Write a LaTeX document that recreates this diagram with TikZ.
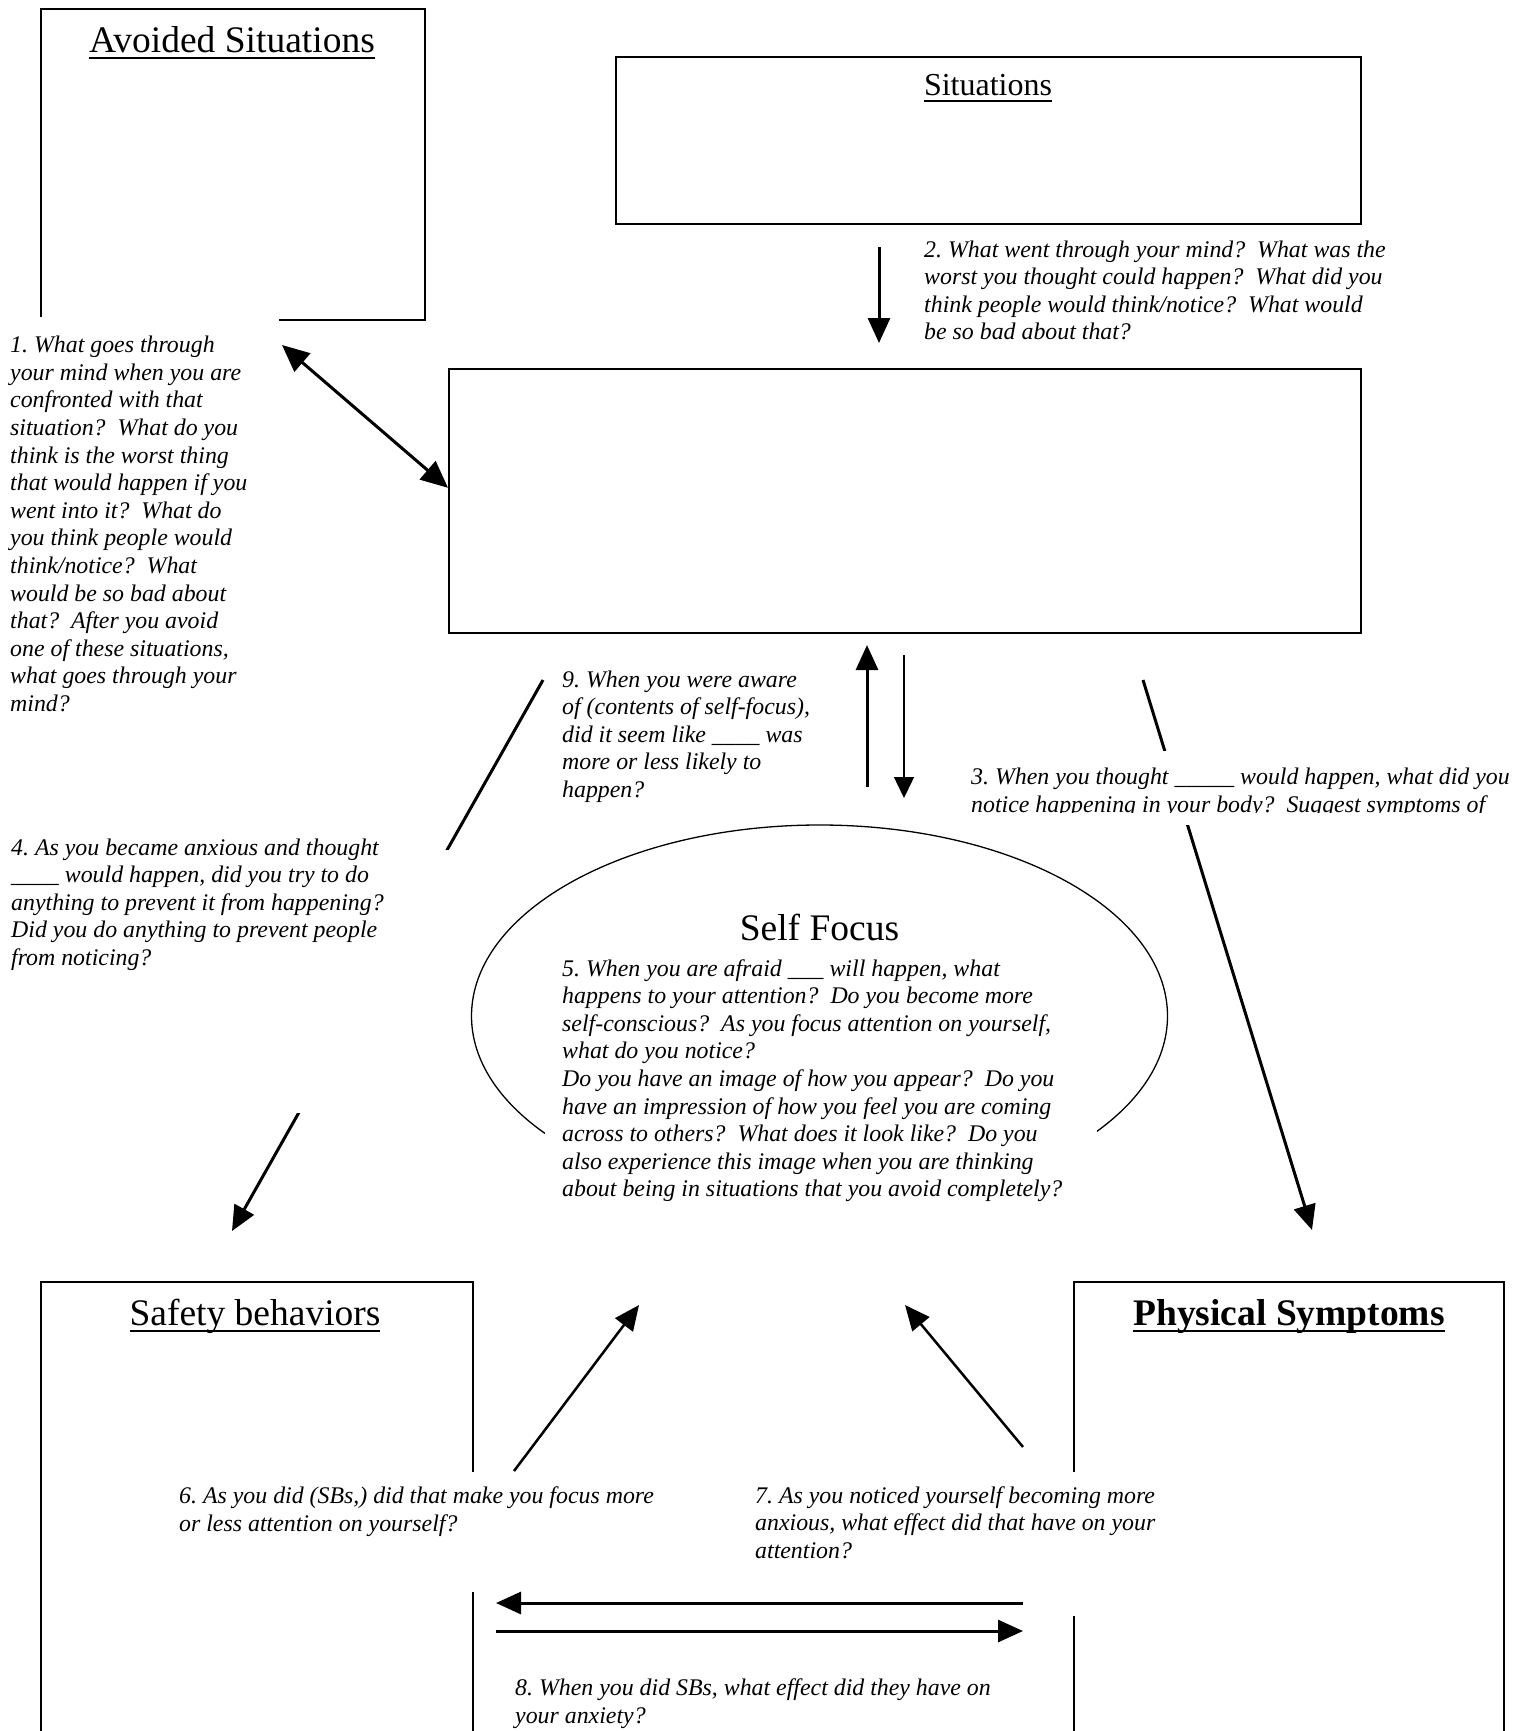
\documentclass[tikz,border=0pt]{standalone}
\usepackage{fontspec}
\setmainfont{Liberation Serif}
\usetikzlibrary{arrows.meta,shapes.geometric}
\frenchspacing
\newcommand\myul[1]{\setbox0=\hbox{#1}\rlap{\rule[-0.175em]{\wd0}{0.045em}}\box0}
\tikzset{
  box/.style={draw, line width=2pt, inner sep=0pt, anchor=north west},
  body/.style={font=\fontsize{23.85pt}{27.6pt}\selectfont\itshape\frenchspacing, align=left, inner sep=0pt, anchor=base west},
  ttl/.style={font=\fontsize{37.5pt}{40pt}\selectfont, inner sep=0pt, anchor=base},
  arr/.style={line width=3pt, -{Triangle[length=25pt,width=22pt]}},
  dblarr/.style={line width=3pt, {Triangle[length=27pt,width=24pt]}-{Triangle[length=27pt,width=24pt]}},
  thinarr/.style={line width=1.4pt, -{Triangle[length=21pt,width=20pt]}},
  midarr/.style={line width=2.5pt, -{Triangle[length=25pt,width=22pt]}},
  cover/.style={fill=white, draw=none}
}
\begin{document}
\begin{tikzpicture}[x=1pt,y=-1pt]
\useasboundingbox (0,0) rectangle (1525,1731);
\clip (0,0) rectangle (1525,1731);
\fill[white] (0,0) rectangle (1525,1731);

% boxes
\node[box, minimum width=384pt, minimum height=311pt] (av) at (40,8) {};
\node[box, minimum width=745pt, minimum height=167pt] (sit) at (615,56) {};
\node[box, line width=1.6pt, minimum width=912pt, minimum height=264pt] (mid) at (448,368) {};
\node[box, minimum width=432pt, minimum height=500pt] (sb) at (40,1281) {};
\node[box, minimum width=430pt, minimum height=500pt] (ps) at (1073,1281) {};
\node[draw, ellipse, line width=1.3pt, minimum width=696pt, minimum height=382pt, inner sep=0pt] (sf) at (819.5,1016) {};

% free arrow ends
\coordinate (a1s) at (282,345);
\coordinate (a2s) at (879,247);
\coordinate (a2e) at (879,343);
\coordinate (a9us) at (867,787);
\coordinate (a9ue) at (867,645);
\coordinate (a9ds) at (904,655);
\coordinate (a9de) at (904,798);
\coordinate (a4s) at (543,680);
\coordinate (a4e) at (232,1231);
\coordinate (a3s) at (1143,680);
\coordinate (a3e) at (1312,1230);
\coordinate (a6s) at (514,1471);
\coordinate (a6e) at (639,1305);
\coordinate (a7s) at (1023,1447);
\coordinate (a7e) at (905,1305);
\coordinate (a8as) at (1023,1603);
\coordinate (a8ae) at (496,1603);
\coordinate (a8bs) at (496,1631);
\coordinate (a8be) at (1023,1631);

% arrows
\draw[dblarr] (a1s) -- ([yshift=13pt]mid.west);
\draw[arr] (a2s) -- (a2e);
\draw[arr] (a9us) -- (a9ue);
\draw[thinarr] (a9ds) -- (a9de);
\draw[arr] (a4s) -- (a4e);
\draw[arr] (a3s) -- (a3e);
\draw[midarr] (a6s) -- (a6e);
\draw[midarr] (a7s) -- (a7e);

% white text backgrounds
\fill[cover] (0,317) rectangle (279,680);
\fill[cover] (965,751) rectangle (1525,825);
\fill[cover] (0,850) rectangle (460,1113);
\fill[cover] (545,950) rectangle (1097,1215);
\fill[cover] (175,1472) rectangle (700,1592);
\fill[cover] (750,1472) rectangle (1085,1616);

% titles
\node[ttl] (avT) at (232,52.5) {\myul{Avoided Situations}};
\node[ttl, font=\fontsize{32pt}{36pt}\selectfont] (sitT) at (988,96) {\myul{Situations}};
\node[ttl] (sfT) at (819.5,940) {Self Focus};
\node[ttl] (sbT) at (255,1325) {\myul{Safety behaviors}};
\node[ttl, font=\fontsize{37.5pt}{40pt}\selectfont\bfseries] (psT) at (1289,1325) {\myul{Physical Symptoms}};

% question texts (positions are the baselines of their last lines)
\node[body] (t1) at (10,711.5) {1. What goes through\\your mind when you are\\confronted with that\\situation?\ \ What do you\\think is the worst thing\\that would happen if you\\went into it?\ \ What do\\you think people would\\think/notice?\ \ What\\would be so bad about\\that?\ \ After you avoid\\one of these situations,\\what goes through your\\mind?};
\node[body] (t2) at (924,339.8) {2. What went through your mind?\ \ What was the\\worst you thought could happen?\ \ What did you\\think people would think/notice?\ \ What would\\be so bad about that?};
\begin{scope}
\clip (960,740) rectangle (1525,812.5);
\node[body] (t3) at (971,812) {3. When you thought \_\_\_\_\_ would happen, what did you\\notice happening in your body?\ \ Suggest symptoms of};
\end{scope}
\node[body] (t4) at (11,965.4) {4. As you became anxious and thought\\\_\_\_\_ would happen, did you try to do\\anything to prevent it from happening?\\Did you do anything to prevent people\\from noticing?};
\node[body] (t5) at (562,1196.8) {5. When you are afraid \_\_\_ will happen, what\\happens to your attention?\ \ Do you become more\\self-conscious?\ \ As you focus attention on yourself,\\what do you notice?\\Do you have an image of how you appear?\ \ Do you\\have an impression of how you feel you are coming\\across to others?\ \ What does it look like?\ \ Do you\\also experience this image when you are thinking\\about being in situations that you avoid completely?};
\node[body] (t6) at (179,1531) {6. As you did (SBs,) did that make you focus more\\or less attention on yourself?};
\node[body] (t7) at (755,1558.2) {7. As you noticed yourself becoming more\\anxious, what effect did that have on your\\attention?};
\node[body] (t8) at (515,1723) {8. When you did SBs, what effect did they have on\\your anxiety?};
\node[body] (t9) at (562,797.4) {9. When you were aware\\of (contents of self-focus),\\did it seem like \_\_\_\_ was\\more or less likely to\\happen?};

% arrows drawn over the text areas
\draw[arr] (a8as) -- (a8ae);
\draw[arr] (a8bs) -- (a8be);
\end{tikzpicture}
\end{document}
